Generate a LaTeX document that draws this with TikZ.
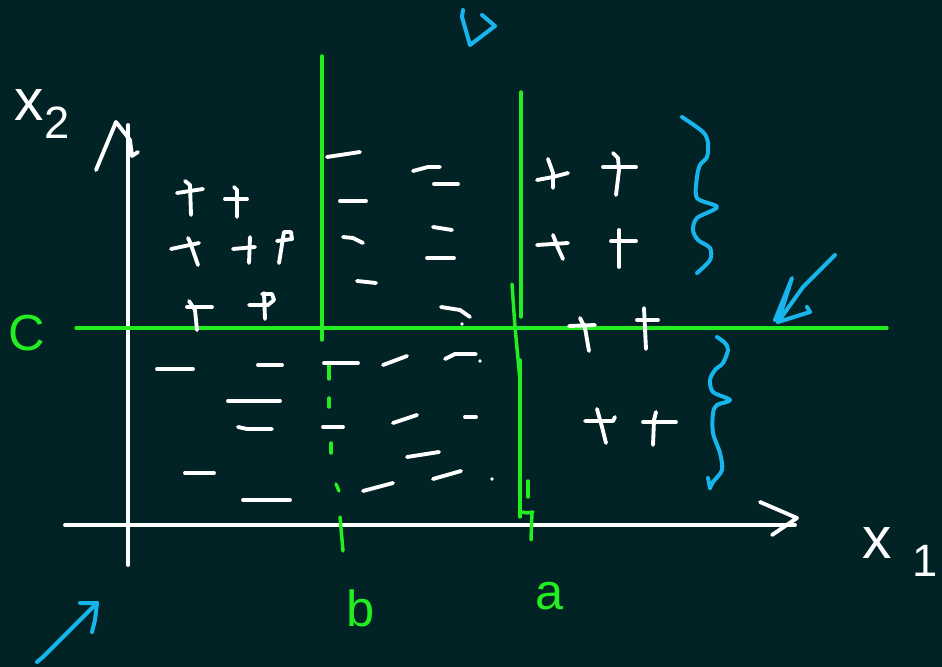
\documentclass[tikz,border=0pt]{standalone}
\usepackage{fontspec}
\setmainfont{Liberation Sans}
\definecolor{bgc}{HTML}{012326}
\definecolor{grn}{HTML}{22EE22}
\definecolor{cyn}{HTML}{18B4EC}
\begin{document}
\begin{tikzpicture}[x=0.75pt,y=-0.75pt,
  wht/.style={draw=white,line width=2.9pt,line cap=round,line join=round},
  gline/.style={draw=grn,line width=2.6pt,line cap=round,line join=round},
  cline/.style={draw=cyn,line width=3pt,line cap=round,line join=round},
  glabel/.style={text=grn,font=\fontsize{38}{38}\selectfont,inner sep=0pt},
  wlabel/.style={text=white,font=\fontsize{44}{44}\selectfont,inner sep=0pt}]
\fill[bgc] (0,0) rectangle (942,667);
\useasboundingbox (0,0) rectangle (942,667);

% axes
\draw[wht] (128,565) -- (128,125);
\draw[wht] (96,170) -- (116,122) -- (130,140) -- (132,156) -- (138,152);
\draw[wht] (65,525) -- (795,525);
\draw[wht] (760,502) -- (797,518) -- (772,535);

% axis labels
\node[wlabel] (xtwo) at (42,114) {x\raisebox{-0.3em}{\fontsize{34}{34}\selectfont 2}};
\node[wlabel,anchor=east] (xone) at (938,552) {x\hspace{0.35em}\raisebox{-0.3em}{\fontsize{34}{34}\selectfont 1}};

% green separators
\draw[gline] (76,328) -- (887,328);
\draw[gline] (322,56) -- (322,340);
\draw[gline] (329,364) -- (329,379);
\draw[gline] (329,398) -- (329,407);
\draw[gline] (331,443) -- (331,453);
\draw[gline] (336,484) -- (339,491);
\draw[gline] (340,517) -- (343,551);
\draw[gline] (521,92) -- (521,317);
\draw[gline] (512,284) -- (515,327) -- (520,380);
\draw[gline] (520,360) -- (520,517);
\draw[gline] (528,481) -- (528,497);
\draw[gline] (522,512) -- (527,513) -- (533,512);
\draw[gline] (532,512) -- (531,540);

% green labels
\node[glabel] (lc) at (27,333) {C};
\node[glabel] (lb) at (361,608) {b};
\node[glabel] (la) at (550,596) {a};

% upper-left pluses
\draw[wht] (177,193) -- (203,189);
\draw[wht] (185,181) -- (190,185) -- (191,215);
\draw[wht] (225,199) -- (247,199);
\draw[wht] (234,187) -- (237,190) -- (237,217);
\draw[wht] (171,249) -- (199,243);
\draw[wht] (188,238) -- (190,242) -- (198,265);
\draw[wht] (233,249) -- (255,247);
\draw[wht] (250,237) -- (249,263);
\draw[wht] (279,263) -- (284,232) -- (291,232) -- (292,239) -- (277,241);
\draw[wht] (187,307) -- (212,307);
\draw[wht] (189,301) -- (195,310) -- (197,330);
\draw[wht] (264,293) -- (265,319);
\draw[wht] (262,294) -- (272,294) -- (274,300) -- (268,305) -- (249,305);

% upper-middle minuses
\draw[wht] (327,157) -- (360,152);
\draw[wht] (413,171) -- (428,167) -- (440,167);
\draw[wht] (434,184) -- (458,184);
\draw[wht] (340,201) -- (366,201);
\draw[wht] (343,237) -- (353,238) -- (363,243);
\draw[wht] (433,227) -- (452,230);
\draw[wht] (427,258) -- (454,258);
\draw[wht] (357,281) -- (367,282) -- (376,283);
\draw[wht] (441,307) -- (460,310) -- (470,317);
\fill[white] (462,324) circle (1.8);

% right pluses
\draw[wht] (537,180) -- (553,177) -- (568,173);
\draw[wht] (548,159) -- (553,173) -- (553,188);
\draw[wht] (603,167) -- (636,167);
\draw[wht] (613,153) -- (618,158) -- (619,170) -- (616,195);
\draw[wht] (537,245) -- (568,243);
\draw[wht] (553,235) -- (558,248) -- (563,259);
\draw[wht] (611,241) -- (636,241);
\draw[wht] (619,230) -- (619,267);
\draw[wht] (569,326) -- (595,325);
\draw[wht] (580,318) -- (585,328) -- (589,351);
\draw[wht] (637,320) -- (658,320);
\draw[wht] (644,308) -- (646,349);
\draw[wht] (585,421) -- (613,421) -- (615,417);
\draw[wht] (597,409) -- (602,427) -- (606,443);
\draw[wht] (643,422) -- (676,422);
\draw[wht] (656,412) -- (654,420) -- (653,445);

% lower minuses
\draw[wht] (157,369) -- (193,369);
\draw[wht] (258,365) -- (282,365);
\draw[wht] (324,363) -- (358,363);
\draw[wht] (383,365) -- (407,356);
\draw[wht] (445,359) -- (455,354) -- (476,354);
\fill[white] (480,361) circle (1.8);
\draw[wht] (228,401) -- (280,401);
\draw[wht] (238,427) -- (247,429) -- (272,429);
\draw[wht] (323,427) -- (343,427);
\draw[wht] (393,423) -- (417,415);
\draw[wht] (465,417) -- (476,417);
\draw[wht] (407,457) -- (439,452);
\draw[wht] (185,473) -- (214,473);
\draw[wht] (433,479) -- (461,471);
\fill[white] (492,479) circle (1.8);
\draw[wht] (363,491) -- (393,483);
\draw[wht] (243,500) -- (290,500);

% cyan marks
\draw[cline] (463,10) -- (462,17) -- (470,45) -- (495,26) -- (482,15);
\draw[cline] plot[smooth,tension=0.5] coordinates {(682,117) (703,132) (708,143) (707,157) (700,165) (697,177) (697,198) (717,207) (697,218) (693,230) (698,240) (710,248) (710,260) (697,273)};
\draw[cline] plot[smooth,tension=0.5] coordinates {(717,337) (725,343) (728,350) (723,363) (715,370) (710,380) (713,392) (730,400) (717,405) (713,413) (713,433) (720,453) (722,470) (713,482) (710,488)};
\draw[cline] (710,488) -- (708,478);
\draw[cline] (835,255) -- (830,260) -- (803,287) -- (778,322);
\draw[cline] (778,322) -- (792,278) -- (775,320);
\draw[cline] (778,322) -- (810,312) -- (807,307);
\draw[cline] (37,662) -- (43,657) -- (63,637) -- (78,622) -- (92,608) -- (97,603);
\draw[cline] (80,603) -- (97,603) -- (95,620) -- (92,632);
\end{tikzpicture}
\end{document}
